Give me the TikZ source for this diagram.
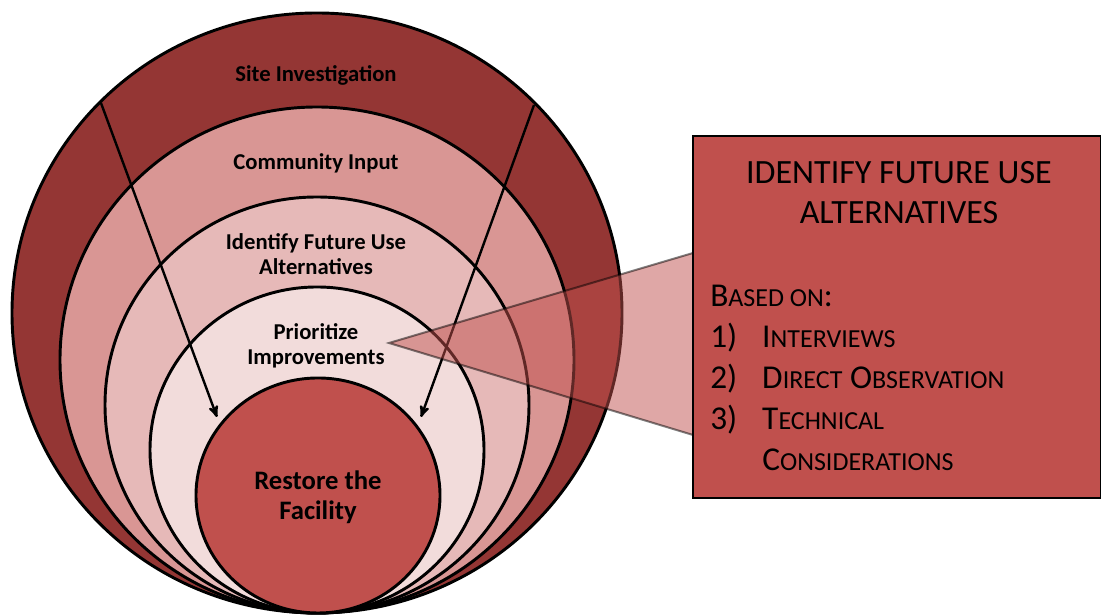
\documentclass[tikz,border=0pt]{standalone}
\usepackage{fontspec}
\setmainfont{Carlito}
\usepackage{color}
\usetikzlibrary{arrows, positioning, shapes.geometric}
\definecolor{ringdark}{HTML}{943634}
\definecolor{ringmid}{HTML}{D99694}
\definecolor{ringlight}{HTML}{E6B9B8}
\definecolor{ringpale}{HTML}{F2DCDB}
\definecolor{accent}{HTML}{C0504D}
\newcommand{\fakesc}[2]{#1{\fontsize{19.5}{30}\selectfont #2}}
\tikzset{
x=0.75pt, y=0.75pt, % one unit is one pixel of the reference
>=stealth', % makes the arrow heads bold
ring/.style 2 args={ellipse, draw, line width=2.2pt, inner sep=0pt,
  minimum width=#1*0.75pt, minimum height=#2*0.75pt}, % the nested rings
ringtext/.style={font=\bfseries\fontsize{17}{18.75}\selectfont, align=center}, % text inside the rings
flow/.style={->, line width=1.8pt}, % the two arrows
callout/.style={fill=accent, fill opacity=0.5, draw=black, draw opacity=0.5, line width=1.5pt}, % the wedge
}

\begin{document}
\begin{tikzpicture}
  \useasboundingbox (0,0) rectangle (1101,616);
  \node[ring={610}{600}, fill=ringdark] (site) at (317,303) {};
  \node[ring={514}{506}, fill=ringmid] (comm) at (317,256) {};
  \node[ring={424}{416}, fill=ringlight] (alt) at (317,211) {};
  \node[ring={334}{326}, fill=ringpale] (prio) at (317,166) {};
  \node[ring={244}{235}, fill=accent] (rest) at (318,120.5) {};

  \coordinate (inl) at (101,513);
  \coordinate (inr) at (534,511);
  \coordinate (outl) at (217,199);
  \coordinate (outr) at (421,199);
  \draw[flow] (inl) -- (outl);
  \draw[flow] (inr) -- (outr);

  \coordinate (tip) at (389,273);
  \coordinate (t1) at (693,363);
  \coordinate (t2) at (693,181);
  \path[callout] (tip) -- (t1) -- (t2) -- cycle;

  \node[ringtext] (sitetext) at (316,541) {Site Investigation};
  \node[ringtext] (commtext) at (316,453) {Community Input};
  \node[ringtext] (alttext) at (316,362) {Identify Future Use\\Alternatives};
  \node[ringtext] (priotext) at (316,270) {Prioritize\\Improvements};
  \node[ringtext, font=\bfseries\fontsize{20}{22.5}\selectfont] (resttext) at (318,119) {Restore the\\Facility};

  \node[draw, fill=accent, line width=2pt, minimum width=408*0.75pt, minimum height=362*0.75pt] (box) at (897,299) {};
  \node[font=\fontsize{25.5}{30}\selectfont, align=center] (title) at (899,423) {IDENTIFY FUTURE USE\\ALTERNATIVES};
  \node[anchor=base west, inner sep=0pt, font=\fontsize{25}{30.75}\selectfont] (list) at (710,309) {%
    \begin{tabular}[t]{@{}p{39pt}@{}l@{}}
    \multicolumn{2}{@{}l@{}}{\fakesc{B}{ASED ON}:}\\
    1) & \fakesc{I}{NTERVIEWS}\\
    2) & \fakesc{D}{IRECT} \fakesc{O}{BSERVATION}\\
    3) & \fakesc{T}{ECHNICAL}\\
       & \fakesc{C}{ONSIDERATIONS}
    \end{tabular}};
\end{tikzpicture}
\end{document}
